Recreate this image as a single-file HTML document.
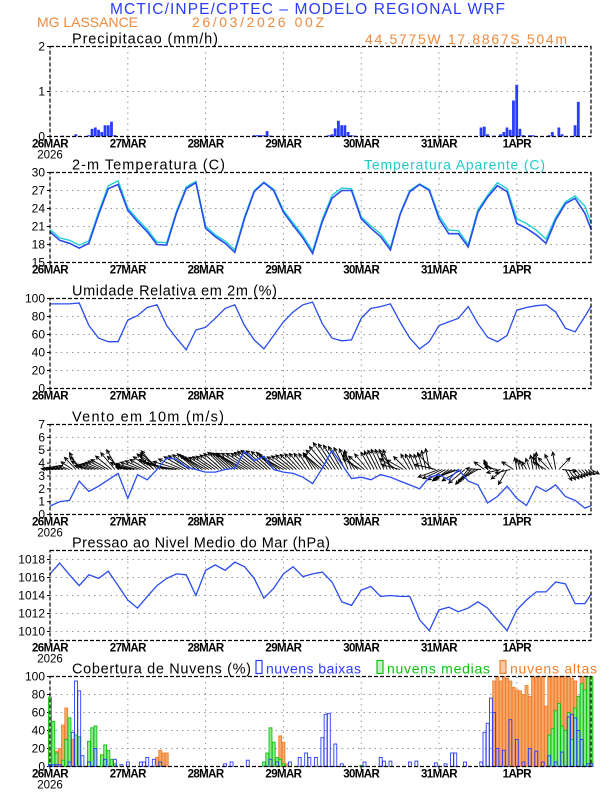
<!DOCTYPE html>
<html><head><meta charset="utf-8"><style>
html,body{margin:0;padding:0;background:#fff;}
svg{display:block;font-family:"Liberation Sans",sans-serif;}
</style></head><body>
<svg id="c" width="612" height="792" viewBox="0 0 612 792" xmlns="http://www.w3.org/2000/svg">
<text x="110" y="14" font-size="15.5" fill="#2a3cff" textLength="395">MCTIC/INPE/CPTEC – MODELO REGIONAL WRF</text>
<text x="37" y="27" font-size="14" fill="#f08a3c" textLength="101">MG LASSANCE</text>
<text x="192" y="27" font-size="14" fill="#f08a3c" textLength="132">26/03/2026 00Z</text>
<text x="365" y="44" font-size="14" fill="#f08a3c" textLength="202">44.5775W 17.8867S 504m</text>
<g id="g"></g>
</svg>
<script>
// ---- data ----
const days = ["26MAR","27MAR","28MAR","29MAR","30MAR","31MAR","1APR"];
const precipHours = [4,8,12,13,14,15,16,17,18,19,20,63,64,65,66,67,68,86,87,88,89,90,91,92,93,94,133,134,135,137,139,140,141,142,143,144,145,146,148,149,154,155,157,158,162,163];
const precipVals  = [0.02,0.05,0.03,0.17,0.2,0.15,0.1,0.25,0.25,0.33,0.03,0.03,0.03,0.03,0.03,0.12,0.02,0.03,0.05,0.18,0.35,0.25,0.25,0.1,0.03,0.02,0.2,0.22,0.05,0.02,0.05,0.1,0.2,0.15,0.8,1.15,0.17,0.03,0.03,0.03,0.03,0.1,0.2,0.05,0.25,0.77];
const hours3 = [0,3,6,9,12,15,18,21,24,27,30,33,36,39,42,45,48,51,54,57,60,63,66,69,72,75,78,81,84,87,90,93,96,99,102,105,108,111,114,117,120,123,126,129,132,135,138,141,144,147,150,153,156,159,162,165,167];
const tempVals = [20.1,18.7,18.2,17.4,18.2,23,27.3,28,23.7,21.8,20.1,18,17.9,23.2,27.3,28.3,20.7,19.3,18.2,16.7,22.3,26.8,28.3,27,23.4,21.2,19.1,16.5,21.8,25.7,27,27,22.3,20.7,19.3,17.1,23,26.8,28,27,22.3,19.8,19.8,17.6,23.4,25.9,27.8,26.8,21.5,20.7,19.6,18.2,22.1,24.8,25.7,23.2,20.4];
const appTempVals = [20.5,19.1,18.7,17.9,18.6,23.4,27.8,28.6,24.1,22.2,20.5,18.4,18.3,23.5,27.6,28.5,21.1,19.6,18.6,17.1,22.6,27.0,28.4,27.2,23.7,21.6,19.5,16.9,22.2,26.2,27.4,27.3,22.6,21.1,19.8,17.5,23.2,27.0,28.1,27.2,22.8,20.4,20.3,18.0,23.8,26.2,28.3,27.3,22.3,21.5,20.4,18.9,22.5,25.1,26.1,24.4,21.4];
const rhVals = [94,94,94,95,70,56,52,52,76,81,90,93,70,56,43,65,68,78,89,93,70,54,44,59,74,85,93,96,72,56,53,54,78,89,91,94,74,56,44,52,70,74,78,91,72,57,52,59,87,90,92,93,85,67,63,80,92];
const windVals = [0.65,1.0,1.1,2.6,1.8,2.2,2.7,3.2,1.25,3.1,2.7,3.5,4.4,4.3,3.7,3.5,3.3,3.3,3.5,3.6,4.9,4.2,4.5,3.5,3.3,3.2,2.9,2.4,3.6,5.0,3.9,2.8,2.9,2.7,3.1,2.9,2.6,2.3,2.0,2.9,3.1,2.7,3.5,2.6,2.3,0.9,1.4,2.2,1.25,0.7,2.2,1.8,2.3,1.4,1.1,0.5,0.7];
const windDirDeg = [175,170,160,120,165,160,150,120,170,165,150,130,160,170,150,140,150,145,135,140,150,145,140,135,150,140,130,120,140,125,120,110,150,120,115,110,165,120,110,100,200,215,200,230,210,110,170,240,100,120,90,150,100,-60,-50,-45,-30];
const presVals = [1016.4,1017.6,1016.3,1015.1,1016.3,1015.9,1016.7,1015.1,1013.5,1012.6,1013.9,1015.1,1015.9,1016.4,1016.3,1014,1016.8,1017.4,1016.8,1017.7,1017.2,1015.9,1013.7,1014.8,1016.4,1017.2,1016.1,1016.4,1016.6,1015.5,1013.3,1012.9,1014.6,1015,1013.9,1014,1013.9,1013.9,1011.3,1010.1,1012.4,1012.7,1012.2,1012.6,1013.3,1012.6,1011.3,1010.1,1012.4,1013.5,1014.4,1014.4,1015.5,1015.3,1013.1,1013.1,1014.2];
const lowHours = [0,1,2,3,6,7,8,9,10,12,14,17,20,22,24,28,29,30,32,34,54,56,61,68,70,74,77,79,80,82,84,85,86,88,90,97,102,103,105,111,113,119,122,124,125,128,133,134,135,136,137,138,140,142,144,146,148,150,152,154,156,158,160,161,162,163,164,166,167];
const lowVals  = [2,2,2,2,5,38,95,84,12,5,20,8,8,2,5,5,5,10,8,5,3,5,7,8,5,5,10,15,10,10,32,58,59,25,3,5,10,6,6,5,6,4,3,15,15,5,5,38,48,76,60,20,18,52,30,5,20,17,5,12,5,16,55,58,54,40,30,3,3];
const midHours = [0,1,2,4,5,6,8,9,12,13,14,16,17,18,19,20,66,67,68,69,70,71,72,96,154,155,156,157,158,159,160,161,162,163,164,165,166,167];
const midVals  = [77,50,15,7,30,54,35,33,28,43,45,13,24,18,8,3,5,15,43,27,10,8,3,1,35,42,62,70,45,40,60,30,65,78,92,85,100,100];
const highHours = [0,2,3,4,5,6,7,33,34,35,36,71,72,73,137,138,139,140,141,142,143,144,145,146,147,148,149,150,151,152,153,154,155,156,157,158,159,160,161,162,163,164,165,166,167];
const highVals  = [40,17,20,46,65,38,30,10,18,15,15,34,27,3,95,100,95,100,98,95,88,85,84,80,90,78,100,100,100,100,67,100,100,100,100,100,100,100,98,95,60,100,100,100,100];

// ---- layout ----
const X0=50, X1=591, PH=77.8/24, TOPS=[46.5,172.5,298.5,424.5,550.5,676.5], H=90;
const NS="http://www.w3.org/2000/svg", G=document.getElementById('g');
function mk(tag,attrs,parent){const e=document.createElementNS(NS,tag);for(const k in attrs)e.setAttribute(k,attrs[k]);(parent||G).appendChild(e);return e;}
function xs(h){return X0+h*PH;}
function ysF(i,min,max){return v=>TOPS[i]+H-(v-min)/(max-min)*H;}

const panels=[
 {name:'precip',title:'Precipitacao (mm/h)',tl:146,min:0,max:2,ticks:[0,1,2]},
 {name:'temperature',title:'2-m Temperatura (C)',tl:153,min:15,max:30,ticks:[15,18,21,24,27,30]},
 {name:'humidity',title:'Umidade Relativa em 2m (%)',tl:205,min:0,max:100,ticks:[0,20,40,60,80,100]},
 {name:'wind',title:'Vento em 10m (m/s)',tl:152,min:0,max:7,ticks:[0,1,2,3,4,5,6,7]},
 {name:'pressure',title:'Pressao ao Nivel Medio do Mar (hPa)',tl:258,min:1009,max:1019,ticks:[1010,1012,1014,1016,1018]},
 {name:'clouds',title:'Cobertura de Nuvens (%)',tl:179,min:0,max:100,ticks:[0,20,40,60,80,100]}
];
panels.forEach((p,i)=>{
  const top=TOPS[i], y=ysF(i,p.min,p.max);
  const g=mk('g',{});
  
  
  p.ticks.forEach(t=>{ if(t>p.min&&t<p.max){const l=mk('line',{x1:X0,x2:X1,y1:y(t),y2:y(t),stroke:'#999','stroke-dasharray':'1.5,4','stroke-width':1},g);
    
    }});
  days.forEach((d,k)=>{ if(k>0){const l=mk('line',{x1:xs(k*24),x2:xs(k*24),y1:top,y2:top+H,stroke:'#999','stroke-dasharray':'1.5,4','stroke-width':1},g);
    
    }});
  p.ticks.forEach(t=>{
    const tx=mk('text',{x:X0-5,y:y(t)+4,'font-size':12,'text-anchor':'end',fill:'#000'},g);
    tx.textContent=String(t);
    
    
    mk('line',{x1:X0-3,x2:X0,y1:y(t),y2:y(t),stroke:'#000'},g);
  });
  days.forEach((d,k)=>{
    const tx=mk('text',{x:xs(k*24),y:top+H+11,'font-size':11.5,'text-anchor':'middle',fill:'#000','font-weight':'bold','letter-spacing':'-0.6'},g);
    tx.textContent=d;
    
    
    mk('line',{x1:xs(k*24),x2:xs(k*24),y1:top+H,y2:top+H+3,stroke:'#000'},g);
  });
  if(i!==1&&i!==2){const yr=mk('text',{x:X0,y:top+H+22,'font-size':11.5,'text-anchor':'middle',fill:'#000'},g);yr.textContent='2026';
    
    }
  const tt=mk('text',{x:72,y:top-3,'font-size':14.5,fill:'#000',textLength:p.tl},g);
  tt.textContent=p.title;
  
  
  p.y=y;
});

function line(i,hours,vals,color,name,w){
  const y=panels[i].y;
  const d=hours.map((h,k)=>(k?'L':'M')+xs(h).toFixed(1)+' '+y(vals[k]).toFixed(1)).join(' ');
  const e=mk('path',{d:d,fill:'none',stroke:color,'stroke-width':w||1.3});
  
  
}
precipHours.forEach((h,k)=>{
  const y=panels[0].y;
  const b=mk('rect',{x:xs(h)-1.5,y:y(precipVals[k]),width:2.8,height:y(0)-y(precipVals[k]),fill:'#2a3cff'});
  
  
});
line(1,hours3,appTempVals,'#20d0d0','apparent-temperature-line',1.4);
line(1,hours3,tempVals,'#2a4cf0','temperature-line',1.6);
const lg=mk('text',{x:364,y:TOPS[1]-3,'font-size':14,fill:'#20c8c8',textLength:181});
lg.textContent='Temperatura Aparente (C)';


line(2,hours3,rhVals,'#2a4cf0','humidity-line');
// wind arrows (3-hourly values, drawn hourly by blending neighbours)
const wy=panels[3].y;
function arrow(bx,by,spd,deg,parent){
  const len=spd*5.5+5, a=deg*Math.PI/180;
  const ex=bx+Math.cos(a)*len, ey=by-Math.sin(a)*len;
  mk('line',{x1:bx,y1:by,x2:ex,y2:ey,stroke:'#000','stroke-width':0.9},parent);
  const h1=a+Math.PI-0.45,h2=a+Math.PI+0.45;
  mk('path',{d:`M${ex+Math.cos(h1)*4} ${ey-Math.sin(h1)*4} L${ex} ${ey} L${ex+Math.cos(h2)*4} ${ey-Math.sin(h2)*4}`,fill:'none',stroke:'#000','stroke-width':1},parent);
}
for(let k=0;k<hours3.length;k++){
  const ar=mk('g',{});
  
  
  const by=wy(3.5);
  arrow(xs(hours3[k]),by,windVals[k],windDirDeg[k],ar);
  if(k<hours3.length-1){
    const h0=hours3[k],h1=hours3[k+1];
    for(let s=1;s<h1-h0;s++){const f=s/(h1-h0);
      arrow(xs(h0+s),by,windVals[k]*(1-f)+windVals[k+1]*f,windDirDeg[k]*(1-f)+windDirDeg[k+1]*f,ar);}
  }
}
line(3,hours3,windVals,'#2a4cf0','wind-speed-line');
line(4,hours3,presVals,'#2a4cf0','pressure-line');
function cbars(hours,vals,fill,stroke,name){
  const y=panels[5].y;
  hours.forEach((h,k)=>{
    const b=mk('rect',{x:xs(h)-1.4,y:y(vals[k]),width:2.9,height:y(0)-y(vals[k]),fill:fill,stroke:stroke,'stroke-width':0.9});
    
    
  });
}
cbars(highHours,highVals,'#f6a868','#f08030','high-cloud-bar');
cbars(midHours,midVals,'#90e890','#10c010','mid-cloud-bar');
cbars(lowHours,lowVals,'none','#2a3cff','low-cloud-bar');
const leg=[['nuvens baixas','#2a3cff',256,'none',95],['nuvens medias','#10c010',377,'#c8f0c8',103],['nuvens altas','#f08030',500,'#f8c8a0',87]];
leg.forEach(l=>{
  const g=mk('g',{});
  
  
  mk('rect',{x:l[2],y:TOPS[5]-16,width:6,height:13,fill:l[3],stroke:l[1],'stroke-width':1.2},g);
  const t=mk('text',{x:l[2]+10,y:TOPS[5]-3,'font-size':14,fill:l[1],textLength:l[4]},g);t.textContent=l[0];
});
TOPS.forEach((t,i)=>{const r=mk('rect',{x:X0,y:t,width:X1-X0,height:H,fill:'none',stroke:'#000','stroke-width':1.2,'stroke-dasharray':'4,2'});
  
  });
</script>
</body></html>
